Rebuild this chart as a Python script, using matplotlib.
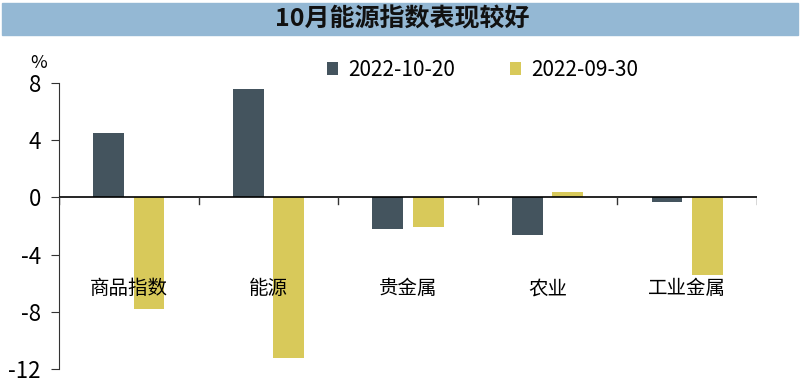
import numpy as np
import matplotlib.pyplot as plt
from matplotlib.patches import Rectangle

plt.rcParams['font.family'] = ['Noto Sans CJK SC', 'DejaVu Sans']

categories = ['商品指数', '能源', '贵金属', '农业', '工业金属']
series_names = ['2022-10-20', '2022-09-30']
oct20 = [4.5, 7.6, -2.2, -2.6, -0.3]
sep30 = [-7.8, -11.2, -2.1, 0.4, -5.4]
yticks = [8, 4, 0, -4, -8, -12]

fig = plt.figure(figsize=(8.04, 3.88), dpi=100)
# title band
fig.patches.append(Rectangle((2 / 804, 1 - 35 / 388), 796 / 804, 32 / 388,
                             transform=fig.transFigure, color='#94b8d4', zorder=0))
fig.text(0.5, 1 - 19 / 388, '10月能源指数表现较好', ha='center', va='center',
         fontsize=18, fontweight='bold', color='#111111')

ax = fig.add_axes([59 / 804, 1 - 369 / 388, 698 / 804, 286 / 388])
x = np.arange(len(categories))
w = 0.22
ax.bar(x - 0.145, oct20, w, color='#44545e', label=series_names[0], zorder=2)
ax.bar(x + 0.145, sep30, w, color='#d8c95a', label=series_names[1], zorder=2)

ax.set_xlim(-0.5, len(categories) - 0.5)
ax.set_ylim(-12, 8)
ax.set_yticks(yticks)
ax.set_yticklabels([str(t) for t in yticks], fontsize=16)
ax.tick_params(axis='y', direction='out', length=6, pad=7, color='#333333')

for s in ['top', 'right', 'bottom']:
    ax.spines[s].set_visible(False)
ax.spines['left'].set_color('#333333')
ax.set_xticks([])
ax.axhline(0, color='black', lw=1.2, zorder=3)
for b in np.arange(-0.5, len(categories), 1.0):
    ax.plot([b, b], [0, -0.45], color='#333333', lw=1, zorder=3)

for i, c in enumerate(categories):
    ax.text(i, -6.4, c, ha='center', va='center', fontsize=14, zorder=4)

fig.text(30 / 804, 1 - 63 / 388, '%', ha='left', va='center', fontsize=13)

ax.legend(loc='center', bbox_to_anchor=(0.607, 1.045), ncol=2,
          frameon=False, fontsize=15, handlelength=0.55, handleheight=0.55,
          handletextpad=0.5, columnspacing=2.6)

fig.savefig('out.png', dpi=100)
